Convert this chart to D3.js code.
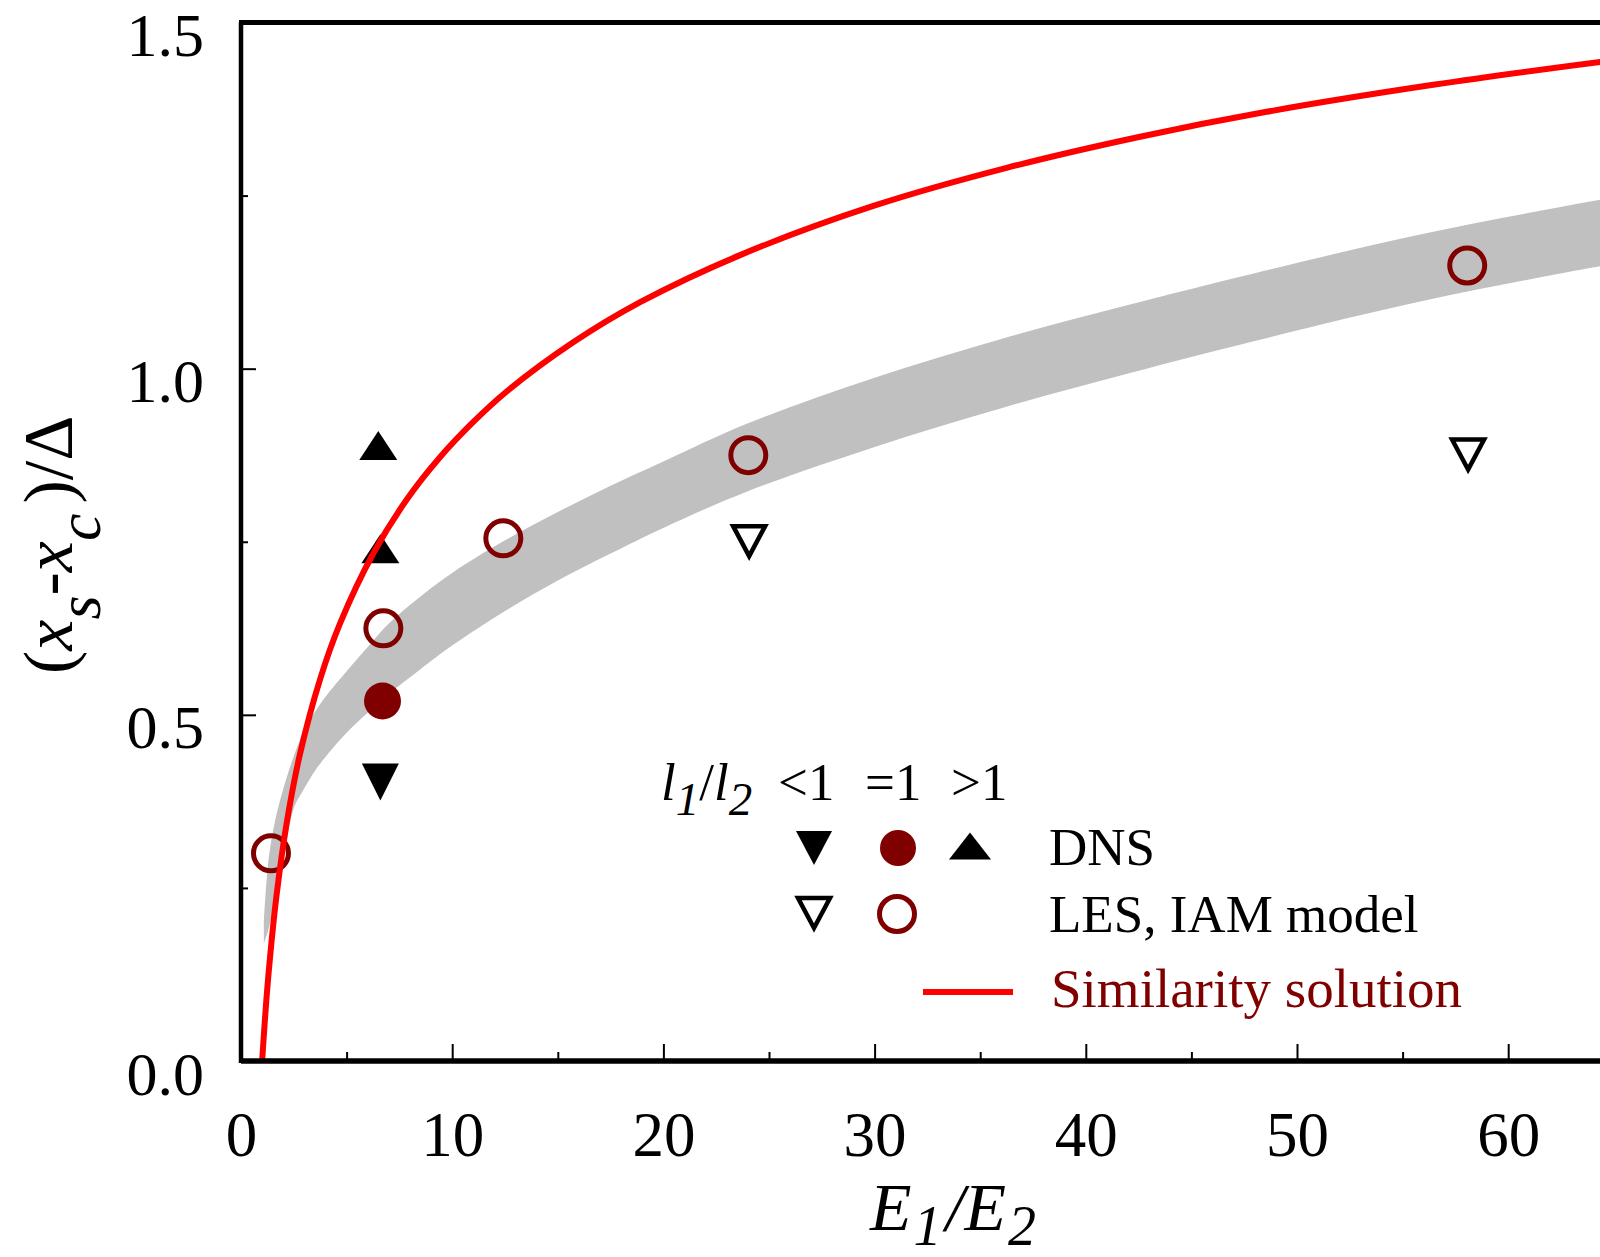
<!DOCTYPE html>
<html>
<head>
<meta charset="utf-8">
<script src="https://cdn.jsdelivr.net/npm/d3@7"></script>
<style>
  html, body { margin: 0; padding: 0; background: #fff; }
  svg { display: block; font-family: "Liberation Serif", "Times New Roman", serif; }
</style>
</head>
<body>
<svg id="chart" width="1600" height="1257"></svg>
<script>
// ---------------- data ----------------
const xMajorTicks = [0, 10, 20, 30, 40, 50, 60];
const xMinorTicks = [5, 15, 25, 35, 45, 55, 65];
const yMajorTicks = [0, 0.5, 1.0, 1.5];
const yTickLabels = ["0.0", "0.5", "1.0", "1.5"];
const yMinorTicks = [0.25, 0.75, 1.25];

// similarity solution (red curve)
const simX = [1.0, 1.2, 1.4, 1.69, 2.16, 2.79, 3.74, 4.69, 6.26, 7.85, 9.42, 11.0, 12.58, 15.73, 18.9, 23.63, 29.94, 36.25, 42.57, 48.56, 56.45, 64.35, 70];
const simY = [0.0, 0.088, 0.158, 0.241, 0.343, 0.443, 0.551, 0.632, 0.733, 0.811, 0.872, 0.923, 0.967, 1.038, 1.096, 1.164, 1.235, 1.290, 1.335, 1.371, 1.410, 1.443, 1.464];

// grey band (range of LES results)
const bandX    = [1.08, 1.3, 1.6, 2.0, 2.5, 3.0, 3.5, 4.0, 5.0, 6.0, 7.0, 8.5, 10, 12.5, 15, 17.5, 20, 24, 30, 36, 42, 48, 56, 64, 70];
const bandLow  = [0.17, 0.19, 0.23, 0.29, 0.365, 0.394, 0.419, 0.439, 0.474, 0.503, 0.530, 0.566, 0.600, 0.650, 0.694, 0.733, 0.770, 0.823, 0.887, 0.943, 0.993, 1.040, 1.098, 1.146, 1.178];
const bandHigh = [0.20, 0.29, 0.345, 0.393, 0.440, 0.478, 0.504, 0.526, 0.563, 0.598, 0.632, 0.671, 0.705, 0.752, 0.793, 0.831, 0.866, 0.921, 0.987, 1.043, 1.092, 1.138, 1.195, 1.242, 1.275];

// DNS
const dnsLessX = [6.6];          const dnsLessY = [0.403];
const dnsEqX = [6.7];            const dnsEqY = [0.520];
const dnsGreaterX = [6.5, 6.6];  const dnsGreaterY = [0.889, 0.740];
// LES, IAM model
const lesLessX = [24.06, 58.1];  const lesLessY = [0.748, 0.873];
const lesEqX = [1.42, 6.74, 12.42, 24.02, 58.06];
const lesEqY = [0.300, 0.625, 0.755, 0.875, 1.149];

// ---------------- setup ----------------
const svg = d3.select("#chart");
const W = 1600, H = 1257;
svg.append("rect").attr("width", W).attr("height", H).attr("fill", "#fff");

const x = d3.scaleLinear().domain([0, 70]).range([241, 241 + 7 * 211.2]);
const y = d3.scaleLinear().domain([0, 1.5]).range([1061, 22.5]);

const MAROON = "#800000";

svg.append("defs").append("clipPath").attr("id", "plotclip")
  .append("rect").attr("x", x(0)).attr("y", y(1.5))
  .attr("width", x(70) - x(0)).attr("height", y(0) - y(1.5));

const plot = svg.append("g").attr("clip-path", "url(#plotclip)");

// band
const bandData = bandX.map((d, i) => ({x: d, lo: bandLow[i], hi: bandHigh[i]}));
plot.append("path")
  .datum(bandData)
  .attr("fill", "#c0c0c0")
  .attr("d", d3.area().x(d => x(d.x)).y0(d => y(d.lo)).y1(d => y(d.hi)).curve(d3.curveCatmullRom.alpha(0.5)));

// marker helpers
function triPath(w, h, up) {
  return up
    ? `M0,${-h/2}L${w/2},${h/2}L${-w/2},${h/2}Z`
    : `M0,${h/2}L${w/2},${-h/2}L${-w/2},${-h/2}Z`;
}
function zip(xs, ys) { return xs.map((d, i) => ({x: d, y: ys[i]})); }

// LES open circles
plot.selectAll(".lesEq").data(zip(lesEqX, lesEqY)).join("circle")
  .attr("cx", d => x(d.x)).attr("cy", d => y(d.y)).attr("r", 17.5)
  .attr("fill", "none").attr("stroke", MAROON).attr("stroke-width", 5);
// LES open down triangles
plot.selectAll(".lesLess").data(zip(lesLessX, lesLessY)).join("path")
  .attr("transform", d => `translate(${x(d.x)},${y(d.y) - 2})`)
  .attr("d", triPath(32, 30, false))
  .attr("fill", "none").attr("stroke", "#000").attr("stroke-width", 4.5);
// DNS filled circle
plot.selectAll(".dnsEq").data(zip(dnsEqX, dnsEqY)).join("circle")
  .attr("cx", d => x(d.x)).attr("cy", d => y(d.y)).attr("r", 18.5)
  .attr("fill", MAROON);
// DNS filled down triangle
plot.selectAll(".dnsLess").data(zip(dnsLessX, dnsLessY)).join("path")
  .attr("transform", d => `translate(${x(d.x)},${y(d.y)})`)
  .attr("d", triPath(37, 37, false)).attr("fill", "#000");
// DNS filled up triangles
plot.selectAll(".dnsGr").data(zip(dnsGreaterX, dnsGreaterY)).join("path")
  .attr("transform", d => `translate(${x(d.x)},${y(d.y)})`)
  .attr("d", triPath(38, 29, true)).attr("fill", "#000");

// similarity solution line
plot.append("path")
  .datum(zip(simX, simY))
  .attr("fill", "none").attr("stroke", "#ff0000").attr("stroke-width", 6)
  .attr("stroke-linejoin", "round")
  .attr("d", d3.line().x(d => x(d.x)).y(d => y(d.y)).curve(d3.curveCatmullRom.alpha(0.5)));

// ---------------- axes ----------------
const axisG = svg.append("g");
const gxm = axisG.append("g").attr("transform", `translate(0,${y(0)})`)
  .call(d3.axisBottom(x).tickValues(xMinorTicks).tickSize(-9).tickSizeOuter(0).tickFormat(""));
const gx = axisG.append("g").attr("transform", `translate(0,${y(0)})`)
  .call(d3.axisBottom(x).tickValues(xMajorTicks).tickSize(-17).tickSizeOuter(0).tickFormat(d3.format("d")));
gx.selectAll("text").attr("y", 95).attr("dy", null)
  .attr("font-size", 63).attr("fill", "#000");
const gym = axisG.append("g").attr("transform", `translate(${x(0)},0)`)
  .call(d3.axisLeft(y).tickValues(yMinorTicks).tickSize(-7).tickSizeOuter(0).tickFormat(""));
const gy = axisG.append("g").attr("transform", `translate(${x(0)},0)`)
  .call(d3.axisLeft(y).tickValues(yMajorTicks).tickSize(-15).tickSizeOuter(0)
    .tickFormat((d, i) => yTickLabels[i]));
gy.selectAll("text").attr("x", -37).attr("dy", null).attr("y", 33)
  .attr("font-size", 62).attr("fill", "#000");

[gx, gxm, gy, gym].forEach(g => {
  g.select(".domain").remove();
  g.selectAll(".tick line").attr("stroke", "#000").attr("stroke-width", 2);
  g.attr("font-family", null);
});
gx.selectAll(".tick").filter(d => d === 0).select("line").remove();
gy.selectAll(".tick").filter(d => d === 0).select("line").remove();

// frame lines
axisG.append("line").attr("x1", x(0)).attr("x2", W).attr("y1", y(0)).attr("y2", y(0))
  .attr("stroke", "#000").attr("stroke-width", 5.5);
axisG.append("line").attr("x1", x(0) - 2).attr("x2", W).attr("y1", y(1.5)).attr("y2", y(1.5))
  .attr("stroke", "#000").attr("stroke-width", 5);
axisG.append("line").attr("x1", x(0)).attr("x2", x(0)).attr("y1", y(1.5)).attr("y2", y(0) + 2)
  .attr("stroke", "#000").attr("stroke-width", 4.5);

// ---------------- axis titles ----------------
const xt = svg.append("text").attr("x", 870).attr("y", 1230)
  .attr("font-size", 68).attr("font-style", "italic").attr("fill", "#000");
xt.append("tspan").text("E");
xt.append("tspan").attr("font-size", 56).attr("dy", 15).attr("dx", 2).text("1");
xt.append("tspan").attr("dy", -15).attr("dx", 4).text("/");
xt.append("tspan").text("E");
xt.append("tspan").attr("font-size", 56).attr("dy", 15).attr("dx", 2).text("2");

const yt = svg.append("text").attr("transform", "translate(72,674) rotate(-90)")
  .attr("font-size", 70).attr("fill", "#000");
yt.append("tspan").text("(");
yt.append("tspan").attr("font-style", "italic").text("x");
yt.append("tspan").attr("font-style", "italic").attr("font-size", 62).attr("dy", 28).text("s");
yt.append("tspan").attr("dy", -28).text("-");
yt.append("tspan").attr("font-style", "italic").text("x");
yt.append("tspan").attr("font-style", "italic").attr("font-size", 62).attr("dy", 28).text("c");
yt.append("tspan").attr("dy", -28).attr("dx", 10).text(")/Δ");

// ---------------- legend ----------------
const lg = svg.append("g");
const lt = lg.append("text").attr("x", 661).attr("y", 800).attr("font-size", 53).attr("fill", "#000");
lt.append("tspan").attr("font-style", "italic").text("l");
lt.append("tspan").attr("font-style", "italic").attr("font-size", 47).attr("dy", 15).text("1");
lt.append("tspan").attr("dy", -15).text("/");
lt.append("tspan").attr("font-style", "italic").text("l");
lt.append("tspan").attr("font-style", "italic").attr("font-size", 47).attr("dy", 15).text("2");

const ratioLabels = ["<1", "=1", ">1"];
const ratioX = [778, 865, 951];
lg.selectAll(".rl").data(ratioLabels).join("text")
  .attr("x", (d, i) => ratioX[i]).attr("y", 800)
  .attr("font-size", 53).attr("fill", "#000").text(d => d);

lg.append("path").attr("transform", "translate(814,848)").attr("d", triPath(36, 34, false)).attr("fill", "#000");
lg.append("circle").attr("cx", 898).attr("cy", 848).attr("r", 18).attr("fill", MAROON);
lg.append("path").attr("transform", "translate(970,846)").attr("d", triPath(42, 27, true)).attr("fill", "#000");
lg.append("path").attr("transform", "translate(814,913)").attr("d", triPath(32, 30, false))
  .attr("fill", "none").attr("stroke", "#000").attr("stroke-width", 4.5);
lg.append("circle").attr("cx", 897).attr("cy", 914).attr("r", 17.5)
  .attr("fill", "none").attr("stroke", MAROON).attr("stroke-width", 5);
lg.append("line").attr("x1", 923).attr("x2", 1013).attr("y1", 992).attr("y2", 992)
  .attr("stroke", "#ff0000").attr("stroke-width", 6);

lg.append("text").attr("x", 1049).attr("y", 865).attr("font-size", 53).attr("fill", "#000").text("DNS");
lg.append("text").attr("x", 1049).attr("y", 932).attr("font-size", 53).attr("fill", "#000").text("LES, IAM model");
lg.append("text").attr("x", 1051).attr("y", 1007).attr("font-size", 55).attr("fill", MAROON).text("Similarity solution");
</script>
</body>
</html>
